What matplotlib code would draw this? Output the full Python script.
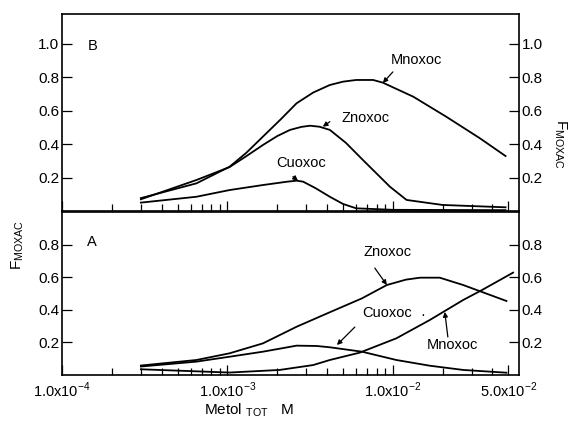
import numpy as np
import matplotlib
matplotlib.use("Agg")
import matplotlib.pyplot as plt
from matplotlib.ticker import LogLocator, NullFormatter, FixedLocator

plt.rcParams['font.family'] = ['Liberation Sans', 'DejaVu Sans']
plt.rcParams['mathtext.fontset'] = 'custom'
plt.rcParams['mathtext.rm'] = 'Liberation Sans'

# panel B (top)
b_mn_x = [3e-4, 6.5e-4, 1.03e-3, 1.3e-3, 1.64e-3, 2.1e-3, 2.62e-3, 3.3e-3, 4.16e-3, 5.0e-3, 6.0e-3, 7.6e-3, 8.7e-3, 1.33e-2, 2.1e-2, 3.36e-2, 4.8e-2]
b_mn_y = [0.08, 0.168, 0.267, 0.35, 0.447, 0.55, 0.646, 0.71, 0.755, 0.775, 0.785, 0.785, 0.769, 0.685, 0.566, 0.437, 0.331]
b_zn_x = [3e-4, 6.5e-4, 1.03e-3, 1.3e-3, 1.64e-3, 2.0e-3, 2.39e-3, 2.8e-3, 3.16e-3, 3.6e-3, 4.16e-3, 5.2e-3, 6.6e-3, 9.6e-3, 1.21e-2, 2.0e-2, 4.8e-2]
b_zn_y = [0.073, 0.188, 0.265, 0.33, 0.397, 0.45, 0.487, 0.505, 0.512, 0.506, 0.487, 0.41, 0.307, 0.148, 0.069, 0.039, 0.025]
b_cu_x = [3e-4, 6.5e-4, 1.03e-3, 1.64e-3, 2.3e-3, 2.62e-3, 2.87e-3, 3.4e-3, 4.16e-3, 5.0e-3, 6.0e-3, 1.0e-2, 4.8e-2]
b_cu_y = [0.053, 0.088, 0.128, 0.158, 0.178, 0.184, 0.178, 0.14, 0.088, 0.045, 0.019, 0.01, 0.008]

# panel A (bottom)
a_zn_x = [3e-4, 6.5e-4, 1.03e-3, 1.64e-3, 2.62e-3, 4.16e-3, 6.5e-3, 9.2e-3, 1.2e-2, 1.46e-2, 1.92e-2, 2.66e-2, 4.86e-2]
a_zn_y = [0.058, 0.092, 0.133, 0.194, 0.296, 0.385, 0.47, 0.552, 0.585, 0.597, 0.597, 0.552, 0.454]
a_cu_x = [3e-4, 6.5e-4, 1.03e-3, 1.64e-3, 2.62e-3, 3.46e-3, 4.16e-3, 6.5e-3, 1.05e-2, 1.67e-2, 2.66e-2, 4.86e-2]
a_cu_y = [0.052, 0.082, 0.112, 0.143, 0.18, 0.178, 0.17, 0.143, 0.092, 0.057, 0.031, 0.014]
a_mn_x = [3e-4, 1.03e-3, 2.07e-3, 3.3e-3, 4.16e-3, 6.3e-3, 1.05e-2, 1.67e-2, 2.66e-2, 3.44e-2, 5.33e-2]
a_mn_y = [0.035, 0.015, 0.031, 0.061, 0.092, 0.137, 0.225, 0.337, 0.46, 0.52, 0.628]

xticks = [1e-4, 1e-3, 1e-2, 5e-2]
xticklabels = [r'1.0x10$^{-4}$', r'1.0x10$^{-3}$', r'1.0x10$^{-2}$', r'5.0x10$^{-2}$']
b_yticks = [0.2, 0.4, 0.6, 0.8, 1.0]
a_yticks = [0.2, 0.4, 0.6, 0.8]

fig = plt.figure(figsize=(5.79, 4.23), dpi=100)
axB = fig.add_axes([0.107, 0.5, 0.789, 0.467])
axA = fig.add_axes([0.107, 0.1135, 0.789, 0.3865])

for ax, yt, ytop in [(axB, b_yticks, 1.179), (axA, a_yticks, 1.003)]:
    ax.set_xscale('log')
    ax.set_xlim(1e-4, 5.77e-2)
    ax.set_ylim(0, ytop)
    ax.xaxis.set_major_locator(FixedLocator(xticks))
    ax.xaxis.set_minor_locator(LogLocator(base=10, subs=np.arange(2, 10)))
    ax.xaxis.set_minor_formatter(NullFormatter())
    ax.set_yticks(yt)
    ax.set_yticklabels(['%.1f' % v for v in yt])
    ax.tick_params(axis='x', which='both', direction='in', top=False, bottom=True)
    ax.tick_params(axis='x', which='major', length=7, width=0.9)
    ax.tick_params(axis='x', which='minor', length=5, width=0.9)
    ax.tick_params(axis='y', direction='in', left=True, right=True,
                   labelleft=True, labelright=True, length=7, width=0.9,
                   labelsize=11, pad=2)
    for s in ax.spines.values():
        s.set_linewidth(1.2)

axB.set_xticklabels([])
axA.set_xticklabels(xticklabels)
axA.tick_params(axis='x', which='major', labelsize=10.5, pad=4)

lw = 1.3
axB.plot(b_mn_x, b_mn_y, color='black', lw=lw)
axB.plot(b_zn_x, b_zn_y, color='black', lw=lw)
axB.plot(b_cu_x, b_cu_y, color='black', lw=lw)
axA.plot(a_zn_x, a_zn_y, color='black', lw=lw)
axA.plot(a_cu_x, a_cu_y, color='black', lw=lw)
axA.plot(a_mn_x, a_mn_y, color='black', lw=lw)

arr = dict(arrowstyle='-|>', color='black', lw=0.9, mutation_scale=7, shrinkA=0, shrinkB=0)
fs = 10.5
axB.text(1.38e-2, 0.904, 'Mnoxoc', ha='center', va='center', fontsize=fs)
axB.annotate('', xy=(8.7e-3, 0.767), xytext=(1.0e-2, 0.833), arrowprops=arr)
axB.text(6.87e-3, 0.558, 'Znoxoc', ha='center', va='center', fontsize=fs)
axB.annotate('', xy=(3.77e-3, 0.506), xytext=(4.16e-3, 0.536), arrowprops=arr)
axB.text(2.78e-3, 0.29, 'Cuoxoc', ha='center', va='center', fontsize=fs)
axB.annotate('', xy=(2.67e-3, 0.184), xytext=(2.49e-3, 0.208), arrowprops=arr)
axB.text(1.54e-4, 0.988, 'B', ha='center', va='center', fontsize=fs)

axA.text(9.33e-3, 0.755, 'Znoxoc', ha='center', va='center', fontsize=fs)
axA.annotate('', xy=(9.2e-3, 0.552), xytext=(7.78e-3, 0.656), arrowprops=arr)
axA.text(9.2e-3, 0.38, 'Cuoxoc', ha='center', va='center', fontsize=fs)
axA.text(1.52e-2, 0.368, '·', ha='center', va='center', fontsize=fs)
axA.annotate('', xy=(4.59e-3, 0.184), xytext=(5.89e-3, 0.294), arrowprops=arr)
axA.text(2.28e-2, 0.184, 'Mnoxoc', ha='center', va='center', fontsize=fs)
axA.annotate('', xy=(2.06e-2, 0.387), xytext=(2.15e-2, 0.233), arrowprops=arr)
axA.text(1.52e-4, 0.816, 'A', ha='center', va='center', fontsize=fs)

fig.text(0.030, 0.42, r'F$_{\mathregular{MOXAC}}$', rotation=90, ha='center', va='center', fontsize=11)
fig.text(0.968, 0.66, r'F$_{\mathregular{MOXAC}}$', rotation=270, ha='center', va='center', fontsize=11)
fig.text(0.43, 0.03, r'Metol $_{\mathregular{TOT}}$   M', ha='center', va='center', fontsize=11)

fig.savefig('out.png', dpi=100)
